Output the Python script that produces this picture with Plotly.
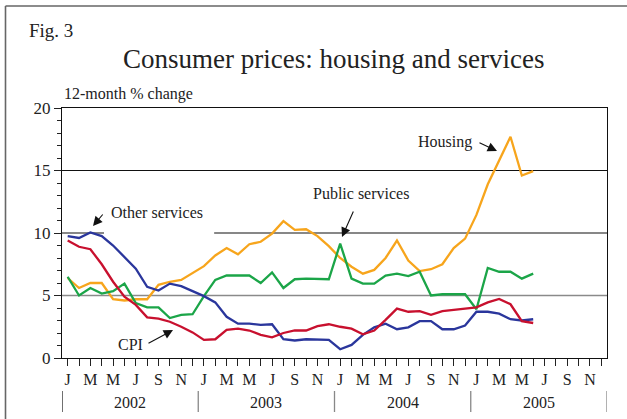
import plotly.graph_objects as go

# ---- data (Jan 2002 .. Jun 2005), 12-month % change ----
months = list(range(42))
other_services = [9.75, 9.6, 10.05, 9.75, 9.0, 8.1, 7.15, 5.7, 5.4, 5.95, 5.75, 5.35,
                  4.95, 4.45, 3.3, 2.75, 2.75, 2.65, 2.7, 1.5, 1.4, 1.5, 1.45, 1.45,
                  0.7, 1.05, 1.85, 2.45, 2.75, 2.3, 2.45, 2.95, 2.95, 2.3, 2.3, 2.6,
                  3.7, 3.7, 3.55, 3.1, 3.0, 3.1]
cpi = [9.4, 8.9, 8.7, 7.5, 6.1, 4.9, 4.25, 3.25, 3.15, 2.9, 2.5, 2.05,
       1.45, 1.5, 2.25, 2.35, 2.2, 1.85, 1.65, 2.0, 2.2, 2.2, 2.55, 2.7,
       2.5, 2.35, 1.9, 2.2, 3.05, 3.95, 3.7, 3.75, 3.45, 3.75, 3.85, 3.95,
       4.05, 4.45, 4.73, 4.3, 2.95, 2.8]
housing = [6.4, 5.6, 6.0, 6.0, 4.7, 4.6, 4.7, 4.7, 5.85, 6.1, 6.25, 6.8,
           7.35, 8.2, 8.8, 8.3, 9.1, 9.3, 9.95, 10.95, 10.25, 10.3, 9.75, 8.95,
           8.0, 7.3, 6.75, 7.05, 8.0, 9.4, 7.8, 6.95, 7.1, 7.5, 8.8, 9.55,
           11.45, 13.9, 15.75, 17.7, 14.6, 14.95]
public_services = [6.5, 5.0, 5.6, 5.15, 5.35, 5.95, 4.4, 4.05, 4.05, 3.2, 3.45, 3.5,
                   4.95, 6.25, 6.6, 6.6, 6.6, 6.0, 6.85, 5.6, 6.3, 6.35, 6.3, 6.3,
                   9.15, 6.35, 5.95, 5.95, 6.6, 6.75, 6.55, 6.9, 5.0, 5.1, 5.1, 5.1,
                   3.9, 7.2, 6.9, 6.9, 6.35, 6.75]

month_letters = ["J", "F", "M", "A", "M", "J", "J", "A", "S", "O", "N", "D"]
years = ["2002", "2003", "2004", "2005"]
y_ticks = [0, 5, 10, 15, 20]

# ---- layout geometry ----
W, H = 627, 419
L, R, T, B = 62, 20, 108, 61
PW, PH = W - L - R, H - T - B
SERIF = "Liberation Serif"
INK = "#222222"

def px(xp):
    return (xp - L) / PW

def py(yp):
    return (H - B - yp) / PH

n_months = 12 * len(years)
tickvals = list(range(n_months))
ticktext = [month_letters[i % 12] if (i % 12) % 2 == 0 else "" for i in tickvals]

fig = go.Figure()
series = [
    ("Housing", housing, "#f7a51c"),
    ("Public services", public_services, "#1ba548"),
    ("Other services", other_services, "#2a369c"),
    ("CPI", cpi, "#c8102e"),
]
for name, vals, col in series:
    fig.add_trace(go.Scatter(x=months, y=vals, mode="lines", name=name,
                             line=dict(color=col, width=2.3), showlegend=False))

shapes = []
# horizontal reference lines
shapes.append(dict(type="line", xref="x", yref="y", x0=-0.5, x1=n_months - 0.5, y0=15, y1=15,
                   line=dict(color="#111", width=1.2), layer="below"))
shapes.append(dict(type="line", xref="x", yref="y", x0=-0.5, x1=3.2, y0=10, y1=10,
                   line=dict(color="#111", width=1.2), layer="below"))
shapes.append(dict(type="line", xref="x", yref="y", x0=12.9, x1=n_months - 0.5, y0=10, y1=10,
                   line=dict(color="#111", width=1.2), layer="below"))
shapes.append(dict(type="line", xref="x", yref="y", x0=-0.5, x1=n_months - 0.5, y0=5, y1=5,
                   line=dict(color="#8a8a8a", width=1.6), layer="below"))
# year separators
for k in range(len(years) + 1):
    xv = 12 * k - 0.5
    shapes.append(dict(type="line", xref="x", yref="paper", x0=xv, x1=xv,
                       y0=py(391), y1=py(412),
                       line=dict(color="#222" if k == 0 else "#888", width=1.3)))
# outer frame (top and left)
shapes.append(dict(type="line", xref="paper", yref="paper", x0=px(5.5), x1=px(W + 2),
                   y0=py(6), y1=py(6), line=dict(color="#666", width=1.6)))
shapes.append(dict(type="line", xref="paper", yref="paper", x0=px(5.5), x1=px(5.5),
                   y0=py(6), y1=py(H + 2), line=dict(color="#666", width=1.6)))

ann = []
for k, yr in enumerate(years):
    ann.append(dict(x=12 * k + 5.5, xref="x", y=py(402), yref="paper", text=yr,
                    xanchor="center", yanchor="middle", showarrow=False,
                    font=dict(family=SERIF, size=16, color=INK)))
ann.append(dict(x=px(27), y=py(31), xref="paper", yref="paper", text="Fig. 3",
                xanchor="left", yanchor="middle", showarrow=False,
                font=dict(family=SERIF, size=19, color=INK)))
ann.append(dict(x=px(333), y=py(59), xref="paper", yref="paper",
                text="Consumer prices: housing and services",
                xanchor="center", yanchor="middle", showarrow=False,
                font=dict(family=SERIF, size=27, color=INK)))
ann.append(dict(x=px(62), y=py(94), xref="paper", yref="paper", text="12-month % change",
                xanchor="left", yanchor="middle", showarrow=False,
                font=dict(family=SERIF, size=16, color=INK)))

labels = [
    ("Housing", 445, 142),
    ("Public services", 361, 193),
    ("Other services", 156.5, 212),
    ("CPI", 130.5, 344),
]
for txt, cx, cy in labels:
    ann.append(dict(x=px(cx), y=py(cy), xref="paper", yref="paper", text=txt,
                    xanchor="center", yanchor="middle", showarrow=False,
                    font=dict(family=SERIF, size=16, color=INK)))

arrows = [
    ((497, 151), (478, 142)),
    ((342, 237), (354, 210)),
    ((93, 226), (104, 213)),
    ((173, 330), (147, 344)),
]
for (hx, hy), (tx, ty) in arrows:
    ann.append(dict(x=px(hx), y=py(hy), xref="paper", yref="paper", text="",
                    showarrow=True, ax=tx - hx, ay=ty - hy, axref="pixel", ayref="pixel",
                    arrowhead=2, arrowsize=1.7, arrowwidth=1.1, arrowcolor="#111",
                    standoff=0, startstandoff=0))

fig.update_layout(
    width=W, height=H,
    margin=dict(l=L, r=R, t=T, b=B, pad=0),
    paper_bgcolor="white", plot_bgcolor="white",
    shapes=shapes, annotations=ann,
    xaxis=dict(range=[-0.5, n_months - 0.5], tickmode="array", tickvals=tickvals,
               ticktext=ticktext, ticks="outside", ticklen=7, tickwidth=1.1,
               tickcolor="#222", showgrid=False, zeroline=False,
               showline=True, linecolor="#111", linewidth=1.3, mirror=True,
               tickfont=dict(family=SERIF, size=16, color=INK), fixedrange=True,
               automargin=False),
    yaxis=dict(range=[0, 20], tickmode="array", tickvals=y_ticks,
               ticks="outside", ticklen=7, tickwidth=1.1, tickcolor="#222",
               minor=dict(ticks="outside", ticklen=4, dtick=1, tickcolor="#222",
                          tickwidth=1.1, showgrid=False),
               showgrid=False, zeroline=False,
               showline=True, linecolor="#111", linewidth=1.3, mirror=True,
               tickfont=dict(family=SERIF, size=17, color=INK), fixedrange=True,
               automargin=False),
)

fig.write_html("out.html", config={"displayModeBar": False},
               post_script="document.body.style.margin='0';document.body.style.padding='0';")
